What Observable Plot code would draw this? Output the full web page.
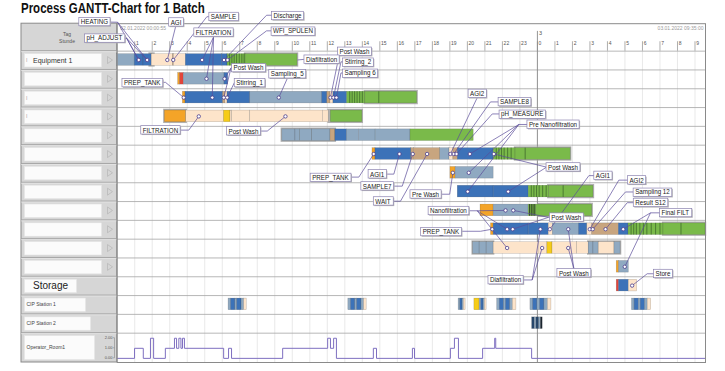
<!DOCTYPE html>
<html><head><meta charset="utf-8">
<script src="https://cdn.jsdelivr.net/npm/d3@7"></script>
<script src="https://cdn.jsdelivr.net/npm/@observablehq/plot@0.6"></script>
<style>
body{margin:0;background:#fff;font-family:"Liberation Sans",Arial,sans-serif}
#wrap{position:relative;width:725px;height:371px;overflow:hidden}
#title{position:absolute;left:21px;top:0px;font-weight:bold;font-size:14px;transform:scaleX(0.82);transform-origin:left top;white-space:nowrap;color:#111}
</style></head><body>
<div id="wrap"><div id="title">Process GANTT-Chart for 1 Batch</div></div>
<script>
// ---------- DATA ----------
const rowNames = ["Equipment 1","","","","","","","","","","","","Storage","CIP Station 1","CIP Station 2","Operator_Room1"];
const rowMarks = [0,2,3];
const hourTicks = [1,2,3,4,5,6,7,8,9,10,11,12,13,14,15,16,17,18,19,20,21,22,23,24,25,26,27,28,29,30,31,32,33];
const dayTicks = [24];
const dayLabels = ["3"];
const startLabel = "02.01.2022 00:00:55";
const endLabel = "03.01.2022 09:35:00";
const palette = {bl:"#3c72b8", gb:"#8fa9c1", pe:"#fde4ca", or:"#f4a428", ye:"#f6cc18", gr:"#7aba4a", ta:"#c8a57f", re:"#e2453b", dk:"#27476b", bk:"#1b2530"};

const row0 = [[0,1,"gb"],[1,1.5,"bl"],[1.5,1.97,"bl"],[1.97,3.18,"pe"],[3.18,3.24,"ta"],[3.24,3.92,"pe"],[3.92,6.0,"bl"],[6.0,6.3,"bl"],[6.3,7.33,"gr"],[7.33,10.3,"gr"]];
const row1 = [[3.48,3.6,"or"],[3.6,3.8,"re"],[3.8,6.13,"gb"],[6.13,6.34,"bl"]];
const row2 = [[3.75,3.9,"or"],[3.9,6.05,"bl"],[6.05,6.18,"ta"],[6.18,6.3,"pe"],[6.3,7.6,"bl"],[7.6,11.7,"gb"],[11.7,12.0,"bl"],[12.0,12.18,"ta"],[12.18,12.35,"pe"],[12.35,13.13,"bl"],[13.13,14.17,"gr"],[14.17,17.13,"gr"]];
const row3 = [[2.72,3.94,"or"],[3.94,6.1,"pe"],[6.1,6.47,"ye"],[6.47,6.57,"pe"],[6.57,7.6,"pe"],[7.6,11.75,"pe"],[11.75,12.08,"pe"],[12.2,14.0,"gr"]];
const row4 = [[9.43,10.18,"gb"],[10.18,10.43,"gb"],[10.43,11.13,"gb"],[11.13,12.18,"gb"],[12.18,12.46,"ta"],[12.46,13.13,"bl"],[13.13,13.8,"gb"],[13.8,14.76,"gb"],[14.76,16.75,"gb"],[16.75,20.36,"gr"]];
const row5 = [[14.58,14.75,"or"],[14.75,16.8,"bl"],[16.8,16.95,"ta"],[16.95,18.45,"ta"],[18.45,18.98,"gb"],[18.98,19.2,"pe"],[19.2,19.45,"ta"],[19.45,21.5,"bl"],[21.5,22.75,"gr"],[22.75,25.9,"gr"]];
const row6 = [[19.03,19.33,"or"],[19.33,21.5,"gb"]];
const row7 = [[19.45,21.5,"bl"],[21.5,23.5,"bl"],[23.5,24.65,"gr"],[24.65,27.2,"gr"]];
const row8 = [[20.75,21.5,"or"],[21.5,23.5,"gb"],[23.5,23.9,"gr"],[23.9,27.13,"gr"]];
const row9 = [[21.35,21.5,"or"],[21.5,23.5,"bl"],[23.5,24.65,"bl"],[24.65,24.88,"pe"],[24.88,26.37,"gb"],[26.37,26.85,"bl"],[26.85,27.13,"pe"],[27.13,28.65,"ta"],[28.65,29.2,"bl"],[29.2,31.2,"gr"],[31.2,33.6,"gr"]];
const row10 = [[20.33,20.7,"gb"],[20.7,21.1,"gb"],[21.1,21.5,"gb"],[21.5,24.07,"pe"],[24.07,24.57,"pe"],[24.57,24.86,"ye"],[24.86,26.27,"pe"],[26.27,26.93,"pe"],[26.93,27.2,"gb"],[27.2,27.5,"gb"],[27.5,28.4,"pe"],[28.4,28.75,"gb"]];
const row11 = [[28.53,28.66,"or"],[28.66,29.22,"gb"]];
const row12 = [[28.53,28.66,"re"],[28.66,29.22,"bl"],[29.22,29.7,"pe"]];
const row13 = [
  [6.36,6.5,"gb"],[6.5,6.75,"bl"],[6.75,6.85,"gb"],[6.85,7.1,"bl"],[7.1,7.25,"gb"],[7.25,7.4,"pe"],
  [13.2,13.35,"gb"],[13.35,13.6,"bl"],[13.6,13.7,"gb"],[13.7,13.95,"bl"],[13.95,14.1,"gb"],[14.1,14.25,"pe"],
  [19.5,19.6,"gb"],[19.6,19.72,"bl"],[19.72,19.8,"gb"],[19.8,19.9,"pe"],
  [20.4,20.7,"ye"],[20.7,20.8,"gb"],[20.8,20.92,"bl"],[20.92,21.0,"gb"],[21.0,21.1,"pe"],
  [21.7,21.85,"gb"],[21.85,22.1,"bl"],[22.1,22.2,"gb"],[22.2,22.45,"bl"],[22.45,22.6,"gb"],[22.6,22.8,"pe"],
  [23.6,23.75,"gb"],[23.75,24.0,"bl"],[24.0,24.15,"gb"],[24.15,24.4,"bl"],[24.4,24.6,"gb"],[24.6,24.8,"pe"],
  [29.4,29.55,"gb"],[29.55,29.8,"bl"],[29.8,29.9,"gb"],[29.9,30.15,"bl"],[30.15,30.3,"gb"],[30.3,30.5,"pe"]];
const row14 = [[23.7,23.85,"dk"],[23.85,23.95,"gb"],[23.95,24.1,"dk"],[24.1,24.2,"gb"],[24.2,24.3,"bk"]];
const ganttRows = [row0,row1,row2,row3,row4,row5,row6,row7,row8,row9,row10,row11,row12,row13,row14];

const shadows = [[0,1.88,2.1],[0,7.33,10.3],[2,14.17,17.13],[3,2.72,3.94],[3,12.1,14.0],[4,9.43,12.46],[5,22.75,25.9],[7,24.65,27.2],[8,24.1,27.13],[9,31.2,33.6],[10,20.33,21.5],[10,26.93,28.75]];
const stripes = [
  [0,6.42],[0,6.55],[0,6.68],[0,6.82],[0,6.97],[0,7.12],[0,7.25],
  [2,13.28],[2,13.42],[2,13.56],[2,13.7],[2,13.85],[2,14.0],[2,14.94],
  [5,21.65],[5,21.8],[5,21.95],[5,22.1],[5,22.3],[5,22.5],[5,23.3],
  [7,23.65],[7,23.8],[7,23.95],[7,24.1],[7,24.3],[7,24.5],[7,25.47],
  [8,23.55],[8,23.65],[8,23.75],[8,23.85],
  [9,29.35],[9,29.5],[9,29.65],[9,29.85],[9,30.05],[9,30.25],[9,30.5],[9,30.75],[9,31.0],[9,32.2]];

const operatorSteps = [[0,0],[0.99,1],[1.49,0],[1.9,2],[2.08,0],[2.75,1],[3.27,2],[3.39,1],[3.52,2],[3.64,1],[3.73,2],[3.84,1],[6.08,0],[6.36,1],[6.53,0],[9.45,1],[12.02,2],[12.18,1],[12.36,2],[12.52,0],[14.63,1],[14.81,0],[16.86,1],[16.98,0],[19.03,1],[19.26,2],[19.49,0],[20.87,1],[21.56,2],[21.62,1],[23.67,0],[33.6,0]];
const operatorTicks = [0,1,2];
const operatorTickLabels = ["0.00","1.00","2.00"];

const annoLabels = ["HEATING","pH_ADJUST","AGI","SAMPLE","FILTRATION","Discharge","WFI_SPÜLEN","Post Wash","Diafiltration","Stirring_2","Sampling 6","Post Wash","Sampling_5","Stirring_1","PREP_TANK","FILTRATION","Post Wash","AGI2","SAMPLE8","pH_MEASURE","Pre Nanofiltration","Post Wash","PREP_TANK","AGI1","SAMPLE7","WAIT","Pre Wash","Nanofiltration","Post Wash","AGI1","PREP_TANK","Diafiltration","Post Wash","AGI2","Sampling 12","Result S12","Final FILT","Store"];
const annoPos = [[-1.30,-1.56],[-0.73,-0.71],[3.36,-1.54],[6.07,-1.83],[5.5,-1.0],[9.73,-1.91],[10.04,-1.08],[13.55,0.02],[11.67,0.44],[13.75,0.57],[13.87,1.16],[7.5,0.89],[9.71,1.19],[7.56,1.66],[1.43,1.66],[2.47,4.2],[7.21,4.25],[20.56,2.26],[22.69,2.70],[23.13,3.34],[24.89,3.90],[25.46,6.17],[12.18,6.70],[14.85,6.54],[14.85,7.18],[15.18,7.98],[17.61,7.61],[18.92,8.49],[25.65,8.84],[27.74,6.62],[18.49,9.58],[22.18,12.17],[26.08,11.80],[29.66,6.86],[30.57,7.49],[30.46,8.06],[31.88,8.60],[31.17,11.84]];
const annoElbow = [[0.02,-1.54],[0.55,-0.68],[3.33,-1.28],[5.12,-1.83],[5.5,-0.74],[8.53,-1.91],[8.53,-1.08],[12.72,0.02],[10.62,0.44],[12.78,0.57],[12.78,1.16],[6.5,0.89],[9.73,1.42],[6.7,1.66],[2.76,1.66],[4.09,4.2],[8.57,4.25],[20.56,2.48],[21.32,2.70],[21.42,3.34],[22.94,3.90],[24.52,6.17],[13.80,6.70],[15.80,6.54],[16.28,7.18],[16.18,7.98],[18.99,7.61],[20.56,8.49],[24.63,8.84],[26.94,6.62],[20.75,9.58],[23.70,12.17],[26.08,11.56],[28.65,6.86],[29.03,7.49],[29.13,8.06],[30.46,8.60],[30.27,11.84]];
const annoTargets = [
  [[1.23,0.47],[1.71,0.47]],[[1.23,0.47],[1.71,0.47]],[[2.86,0.47]],[[3.2,0.47]],
  [[4.85,0.47],[5.10,1.47],[5.43,2.47]],[[6.1,0.47]],[[6.3,0.47]],[[12.18,2.47]],
  [[10.3,0.47,0]],[[12.35,2.47]],[[12.52,2.47]],[[6.13,1.47],[6.09,2.47]],
  [[9.23,2.47]],[[6.28,2.47]],[[3.80,2.47]],[[4.66,3.47]],[[9.61,3.47]],
  [[19.03,5.47]],[[19.22,5.47]],[[19.38,5.47]],
  [[20.14,5.47],[20.08,6.47],[20.02,7.47]],[[21.51,5.47],[22.33,7.47]],
  [[14.65,5.47]],[[16.12,5.47]],[[16.88,5.47]],[[17.70,5.47]],[[19.17,6.47]],
  [[22.18,8.47],[22.27,9.47],[22.27,10.47]],[[22.62,8.47],[22.59,9.47]],
  [[24.71,9.47]],[[21.42,9.47]],[[24.17,9.47],[24.27,10.47]],[[25.76,9.47],[25.76,10.47]],
  [[26.99,9.47]],[[27.16,9.47]],[[27.89,9.47]],[[28.90,9.47],[28.99,11.47]],[[29.41,12.47]]];

// ---------- DERIVED TABLES ----------
const segs = [];
ganttRows.forEach((arr, i) => arr.forEach(([s, e, c]) => segs.push({row: i, s, e, c})));
const shadowData = shadows.map(([row, s, e]) => ({row, s, e}));
const stripeData = stripes.map(([row, h]) => ({row, h, dark: row === 8}));
const labels = annoLabels.map((t, i) => ({t, x: annoPos[i][0], y: annoPos[i][1]}));
const links = [], dots = [];
annoLabels.forEach((t, i) => {
  const [px, py] = annoPos[i], [ex, ey] = annoElbow[i];
  links.push({x1: px, y1: py, x2: ex, y2: ey});
  annoTargets[i].forEach(tg => {
    links.push({x1: ex, y1: ey, x2: tg[0], y2: tg[1]});
    if (tg[2] !== 0) dots.push({x: tg[0], y: tg[1]});
  });
});
const rowEdges = [0,1,2,3,4,5,6,7,8,9,10,11,12,13,14,15];
const opBase = 16.34, opUnit = 0.535;
const opY = v => opBase - v * opUnit;
const barTop = 0.16, barBot = 0.78;

const chart = Plot.plot({
  width: 725, height: 371,
  marginLeft: 116.7, marginRight: 20, marginTop: 23.2, marginBottom: 9,
  x: {domain: [0, 33.6], axis: null},
  y: {domain: [-1.46, 16.56], reverse: true, axis: null},
  style: {background: "white", fontFamily: "'Liberation Sans', Arial, sans-serif"},
  marks: [
    Plot.ruleX(hourTicks, {x: d => d, y1: () => 0, y2: () => 16.56, stroke: "#e3e3e3", strokeWidth: 0.8}),
    Plot.ruleY(rowEdges, {y: d => d, stroke: "#a5a5a5", strokeWidth: 0.8}),
    Plot.ruleX(hourTicks, {x: d => d, y1: () => -0.5, y2: () => 0, stroke: "#777", strokeWidth: 0.6}),
    Plot.text(hourTicks, {x: d => d, y: () => -0.4, text: d => String(d % 24), dx: 1.2, textAnchor: "start", fontSize: 5, fill: "#555"}),
    Plot.ruleX(dayTicks, {x: d => d, y1: () => -1.05, y2: () => 16.56, stroke: "#8a8a8a", strokeWidth: 0.9}),
    Plot.text(dayTicks, {x: d => d, y: () => -0.93, text: (d, i) => dayLabels[i], dx: 1.5, textAnchor: "start", fontSize: 5.5, fill: "#555"}),
    Plot.text([startLabel], {x: () => 0, y: () => -1.22, text: d => d, dx: 3, textAnchor: "start", fontSize: 5, fill: "#9a9a9a"}),
    Plot.text([endLabel], {x: () => 33.6, y: () => -1.22, text: d => d, dx: -2, textAnchor: "end", fontSize: 5, fill: "#9a9a9a"}),
    Plot.rect(shadowData, {x1: "s", x2: "e", y1: d => d.row + 0.09, y2: d => d.row + 0.85, insetLeft: -1.2, insetRight: -1.2, fill: "#a2a2a2", fillOpacity: 0.85}),
    Plot.rect(segs, {x1: "s", x2: "e", y1: d => d.row + barTop, y2: d => d.row + barBot, fill: d => palette[d.c], stroke: "#333", strokeOpacity: 0.3, strokeWidth: 0.5}),
    Plot.ruleX(stripeData, {x: "h", y1: d => d.row + barTop, y2: d => d.row + barBot, stroke: d => d.dark ? "#22301f" : "#3f6a2c", strokeWidth: 0.8}),
    Plot.line(operatorSteps, {x: d => d[0], y: d => opY(d[1]), curve: "step-after", stroke: "#7e6fc0", strokeWidth: 1}),
    Plot.frame({stroke: "#8a8a8a"}),
    Plot.link(links, {x1: "x1", y1: "y1", x2: "x2", y2: "y2", stroke: "#5a4c9a", strokeWidth: 0.7}),
    Plot.dot(dots, {x: "x", y: "y", r: 1.7, fill: "white", stroke: "#4a3c8c", strokeWidth: 0.8}),
    Plot.text(labels, {x: "x", y: "y", text: "t", fontSize: 7.8, fill: "#222"})
  ]
});

const wrap = document.getElementById("wrap");
wrap.insertBefore(chart, wrap.firstChild);
const svg = d3.select(chart);
const ys = chart.scale("y");
const yv = v => ys.apply(v);

// ---------- LEFT PANEL ----------
const lp = svg.insert("g", "g").attr("text-anchor", "start");
const L = 21, R = 116.7;
lp.append("rect").attr("x", L).attr("y", yv(-1.46)).attr("width", R - L).attr("height", yv(16.56) - yv(-1.46))
  .attr("fill", "#d6d6d6").attr("stroke", "#8a8a8a");
rowEdges.forEach(r => {
  lp.append("line").attr("x1", L).attr("x2", R).attr("y1", yv(r)).attr("y2", yv(r)).attr("stroke", "#a0a0a0").attr("stroke-width", 0.9);
  lp.append("line").attr("x1", L).attr("x2", R).attr("y1", yv(r) + 1).attr("y2", yv(r) + 1).attr("stroke", "#ececec").attr("stroke-width", 0.6);
});
lp.append("text").attr("x", 67).attr("y", 36).attr("text-anchor", "middle").attr("font-size", 5).attr("fill", "#555").text("Tag");
lp.append("text").attr("x", 67).attr("y", 43).attr("text-anchor", "middle").attr("font-size", 5).attr("fill", "#555").text("Stunde");
rowNames.forEach((name, i) => {
  const top = yv(i), bot = yv(i === 15 ? 16.56 : i + 1), mid = (top + bot) / 2;
  const w = i < 12 ? 77 : i === 12 ? 52 : i === 13 ? 61 : i === 14 ? 66 : 70;
  lp.append("rect").attr("x", 24.5).attr("y", top + 3).attr("width", w).attr("height", bot - top - 5.5)
    .attr("fill", "#fbfbfb").attr("stroke", "#e6e6e6").attr("stroke-width", 0.5);
  if (i < 12) {
    lp.append("path").attr("d", `M107.5,${mid - 3.5}L107.5,${mid + 3.5}L112.5,${mid}Z`).attr("fill", "none").attr("stroke", "#b5b5b5").attr("stroke-width", 0.7);
    if (name) lp.append("text").attr("x", 33).attr("y", mid + 2.5).attr("text-anchor", "start").attr("font-size", 7).attr("fill", "#333").text(name);
  } else if (i === 12) {
    lp.append("text").attr("x", 33).attr("y", mid + 3.5).attr("text-anchor", "start").attr("font-size", 10).attr("fill", "#222").text(name);
  } else {
    lp.append("text").attr("x", 26.5).attr("y", mid + 1.8).attr("text-anchor", "start").attr("font-size", 5).attr("fill", "#444").text(name);
  }
});
rowMarks.forEach(i => {
  const mid = (yv(i) + yv(i + 1)) / 2;
  lp.append("text").attr("x", 26).attr("y", mid + 2).attr("text-anchor", "start").attr("font-size", 5).attr("fill", "#aa9999").text("I");
});
lp.append("line").attr("x1", 114.5).attr("x2", 114.5).attr("y1", yv(opY(2))).attr("y2", yv(opY(0))).attr("stroke", "#888").attr("stroke-width", 0.6);
operatorTicks.forEach((v, k) => {
  lp.append("line").attr("x1", 113).attr("x2", 114.5).attr("y1", yv(opY(v))).attr("y2", yv(opY(v))).attr("stroke", "#888").attr("stroke-width", 0.6);
  lp.append("text").attr("x", 112.5).attr("y", yv(opY(v)) + 1.5).attr("text-anchor", "end").attr("font-size", 4).attr("fill", "#555").text(operatorTickLabels[k]);
});

// ---------- ANNOTATION BOXES ----------
const textGroups = chart.querySelectorAll('g[aria-label="text"]');
const annoG = textGroups[textGroups.length - 1];
const annoTexts = Array.from(annoG.querySelectorAll("text"));
annoTexts.forEach(t => {
  let tr = t.getAttribute("transform");
  if (!tr) {
    const x = +t.getAttribute("x") || 0, y = +t.getAttribute("y") || 0;
    t.removeAttribute("x"); t.removeAttribute("y");
    tr = `translate(${x},${y})`;
  }
  t.setAttribute("transform", tr + " scale(0.8,1)");
});
const boxG = document.createElementNS("http://www.w3.org/2000/svg", "g");
chart.insertBefore(boxG, annoG);
const sb = chart.getBoundingClientRect();
annoTexts.forEach(t => {
  const b = t.getBoundingClientRect();
  const cx = b.left - sb.left, cy = (b.top + b.bottom) / 2 - sb.top;
  const x = cx - 2, w = b.width + 4, y = cy - 4.2, h = 8.4;
  d3.select(boxG).append("rect").attr("x", x + 1).attr("y", y + 1).attr("width", w).attr("height", h).attr("fill", "#b8b8b8");
  d3.select(boxG).append("rect").attr("x", x).attr("y", y).attr("width", w).attr("height", h)
    .attr("fill", "white").attr("stroke", "#8c83b0").attr("stroke-width", 0.7);
});
</script>
</body></html>
